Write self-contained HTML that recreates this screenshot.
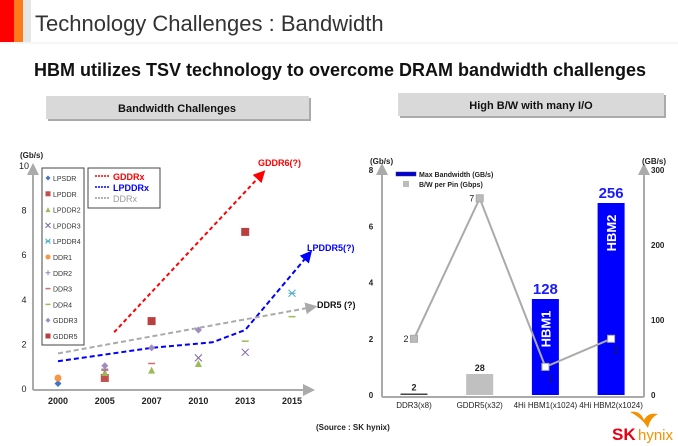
<!DOCTYPE html>
<html><head><meta charset="utf-8"><style>
body{margin:0;background:#fff;font-family:"Liberation Sans",sans-serif}
svg{display:block}
</style></head><body>
<svg width="678" height="446" viewBox="0 0 678 446" xmlns="http://www.w3.org/2000/svg" font-family="Liberation Sans, sans-serif">
<defs>
<marker id="ar" markerWidth="6" markerHeight="6" refX="5" refY="3" orient="auto"><path d="M0,0L6,3L0,6z" fill="#f00"/></marker>
<marker id="ab" markerWidth="6" markerHeight="6" refX="5" refY="3" orient="auto"><path d="M0,0L6,3L0,6z" fill="#00f"/></marker>
<marker id="ag" markerWidth="6" markerHeight="6" refX="5" refY="3" orient="auto"><path d="M0,0L6,3L0,6z" fill="#aaa"/></marker>
<marker id="ax" markerWidth="6" markerHeight="6" refX="5" refY="3" orient="auto"><path d="M0,0L6,3L0,6z" fill="#aaa"/></marker>
</defs>
<rect x="0" y="0" width="14" height="42" fill="#f00"/>
<rect x="14" y="0" width="9" height="42" fill="#ff7a1a"/>
<rect x="23" y="0" width="8" height="42" fill="#e6e6e6"/>
<text x="35" y="31" font-size="22" fill="#333">Technology Challenges : Bandwidth</text>
<line x1="0" y1="43" x2="678" y2="43" stroke="#eee"/>
<text x="34" y="76" font-size="18" font-weight="bold" fill="#111">HBM utilizes TSV technology to overcome DRAM bandwidth challenges</text>
<rect x="48" y="98" width="263" height="23" fill="#aaa"/>
<rect x="46" y="96" width="263" height="23" fill="#d9d9d9"/>
<text x="177" y="112" font-size="11" font-weight="bold" text-anchor="middle" fill="#111">Bandwidth Challenges</text>
<rect x="400" y="95" width="266" height="23" fill="#aaa"/>
<rect x="398" y="93" width="266" height="23" fill="#d9d9d9"/>
<text x="531" y="109" font-size="11" font-weight="bold" text-anchor="middle" fill="#111">High B/W with many I/O</text>
<g id="left"></g>
<g id="right"></g>
<text x="316" y="430" font-size="8" font-weight="bold" fill="#222">(Source : SK hynix)</text>
<g>
<path d="M630,412 q10,-2 14,8 q4,-8 14,-6 q-8,4 -10,14 q-6,-10 -18,-16z" fill="#f39200"/>
<text x="612" y="440" font-size="17" font-weight="bold" fill="#e60012">SK</text>
<text x="638" y="440" font-size="15" fill="#f39200">hynix</text>
</g>
</svg>
<script>
const NS='http://www.w3.org/2000/svg';
function mk(p,t,a){const e=document.createElementNS(NS,t);for(const k in a)e.setAttribute(k,a[k]);p.appendChild(e);return e;}
// ---- left chart data
const yearLabels=['2000','2005','2007','2010','2013','2015'];
const yTicksL=[0,2,4,6,8,10];
const seriesNames=['LPSDR','LPDDR','LPDDR2','LPDDR3','LPDDR4','DDR1','DDR2','DDR3','DDR4','GDDR3','GDDR5'];
const seriesIdx=[[0],[1],[1,2,3],[2,3,4],[1,3,4,10],[4,5]];
const pointsLPSDR=[[0,0.2]];
const pointsLPDDR=[[1,0.45]];
const pointsLPDDR2=[[1,0.7],[2,0.8],[3,1.1]];
const pointsLPDDR3=[[3,1.35],[4,1.6]];
const pointsLPDDR4=[[5,4.25]];
const pointsDDR1=[[0,0.45]];
const pointsDDR2=[[1,0.85]];
const pointsDDR3=[[1,0.8],[2,1.1]];
const pointsDDR4=[[4,2.1],[5,3.2]];
const pointsGDDR3=[[1,1.0],[2,1.8],[3,2.6]];
const pointsGDDR5=[[2,3.0],[4,7.0]];
const trendGDDR=[[1.2,2.5],[4.4,9.7]];
const trendLPDDR=[[0,1.2],[2,1.8],[3.3,2.05],[4,2.6],[5.4,6.1]];
const trendDDR=[[0,1.55],[5.5,3.65]];
const L=document.getElementById('left');
const xL=i=>58+i*46.8, yL=v=>388-v*22.3;
mk(L,'line',{x1:33,y1:390,x2:33,y2:165,stroke:'#aaa','stroke-width':2,'marker-end':'url(#ax)',});
mk(L,'line',{x1:33,y1:390,x2:313,y2:390,stroke:'#aaa','stroke-width':2,'marker-end':'url(#ax)',});
let t=mk(L,'text',{x:20,y:158,'font-size':8,'font-weight':'bold',fill:'#222'});t.textContent='(Gb/s)';


yTicksL.forEach(v=>{const e=mk(L,'text',{x:24,y:yL(v)+4,'font-size':9,'text-anchor':'middle',fill:'#222'});e.textContent=v;

});
yearLabels.forEach((s,i)=>{const e=mk(L,'text',{x:xL(i),y:404,'font-size':9,'font-weight':'bold','text-anchor':'middle',fill:'#222'});e.textContent=s;

});
const sty={LPSDR:['diamond','#4472c4'],LPDDR:['square','#c0504d'],LPDDR2:['tri','#9bbb59'],LPDDR3:['x','#8064a2'],LPDDR4:['star','#4bacc6'],DDR1:['circle','#f79646'],DDR2:['plus','#7f8fb8'],DDR3:['dash','#d46c6c'],DDR4:['dash','#9bbb59'],GDDR3:['diamond','#a38bc2'],GDDR5:['square','#b84040']};
const ptsMap={LPSDR:pointsLPSDR,LPDDR:pointsLPDDR,LPDDR2:pointsLPDDR2,LPDDR3:pointsLPDDR3,LPDDR4:pointsLPDDR4,DDR1:pointsDDR1,DDR2:pointsDDR2,DDR3:pointsDDR3,DDR4:pointsDDR4,GDDR3:pointsGDDR3,GDDR5:pointsGDDR5};
function marker(p,shape,c,x,y,s){let e;
 if(shape==='diamond')e=mk(p,'path',{d:`M${x},${y-s}L${x+s},${y}L${x},${y+s}L${x-s},${y}z`,fill:c});
 else if(shape==='square')e=mk(p,'rect',{x:x-s,y:y-s,width:2*s,height:2*s,fill:c});
 else if(shape==='tri')e=mk(p,'path',{d:`M${x},${y-s}L${x+s},${y+s}L${x-s},${y+s}z`,fill:c});
 else if(shape==='circle')e=mk(p,'circle',{cx:x,cy:y,r:s,fill:c});
 else if(shape==='x')e=mk(p,'path',{d:`M${x-s},${y-s}L${x+s},${y+s}M${x-s},${y+s}L${x+s},${y-s}`,stroke:c,'stroke-width':1});
 else if(shape==='star')e=mk(p,'path',{d:`M${x-s},${y-s}L${x+s},${y+s}M${x-s},${y+s}L${x+s},${y-s}M${x-s},${y}L${x+s},${y}`,stroke:c,'stroke-width':1});
 else if(shape==='plus')e=mk(p,'path',{d:`M${x-s},${y}L${x+s},${y}M${x},${y-s}L${x},${y+s}`,stroke:c,'stroke-width':1});
 else e=mk(p,'line',{x1:x-s,y1:y,x2:x+s,y2:y,stroke:c,'stroke-width':1.5});
 return e;}
function pts(arr){return arr.map(p=>xL(p[0])+','+yL(p[1])).join(' ');}
let tl=mk(L,'polyline',{points:pts(trendGDDR),fill:'none',stroke:'#f00','stroke-width':2,'stroke-dasharray':'4,3','marker-end':'url(#ar)'});


tl=mk(L,'polyline',{points:pts(trendLPDDR),fill:'none',stroke:'#00f','stroke-width':2,'stroke-dasharray':'5,3','marker-end':'url(#ab)'});


tl=mk(L,'polyline',{points:pts(trendDDR),fill:'none',stroke:'#aaa','stroke-width':2,'stroke-dasharray':'5,3','marker-end':'url(#ag)'});


seriesNames.forEach(n=>{ptsMap[n].forEach(p=>{const m=marker(L,sty[n][0],sty[n][1],xL(p[0]),yL(p[1]),sty[n][0]==='square'?4:3.5);

});});
[['GDDR6(?)',258,166,'#f00'],['LPDDR5(?)',307,251,'#00f'],['DDR5 (?)',317,308,'#111']].forEach(a=>{const e=mk(L,'text',{x:a[1],y:a[2],'font-size':9,'font-weight':'bold',fill:a[3]});e.textContent=a[0];

});
// legends
let lb=mk(L,'rect',{x:42,y:168,width:42,height:177,fill:'#fff',stroke:'#444'});


seriesNames.forEach((n,i)=>{const y=178+i*15.8;marker(L,sty[n][0],sty[n][1],48,y,2.5);const e=mk(L,'text',{x:53,y:y+3,'font-size':7,fill:'#333'});e.textContent=n;

});
lb=mk(L,'rect',{x:88,y:168,width:72,height:40,fill:'#fff',stroke:'#444'});


[['GDDRx','#f00'],['LPDDRx','#00f'],['DDRx','#999']].forEach((a,i)=>{const y=179+i*11;mk(L,'line',{x1:95,y1:y-3,x2:110,y2:y-3,stroke:a[1],'stroke-width':1.5,'stroke-dasharray':'2,1'});const e=mk(L,'text',{x:113,y:y+1,'font-size':9,'font-weight':i<2?'bold':'normal',fill:a[1]});e.textContent=a[0];

});
// ---- right chart
const cats=['DDR3(x8)','GDDR5(x32)','4Hi HBM1(x1024)','4Hi HBM2(x1024)'];
const maxBW=[2,28,128,256];
const perPin=[2,7,1,2];
const yTicksLeftR=[0,2,4,6,8];
const yTicksRightR=[0,100,200,300];
const R=document.getElementById('right');
const xc=i=>414+i*65.7, yPin=v=>395-v*28.1, yBW=v=>395-v*0.75;
mk(R,'line',{x1:382,y1:397,x2:382,y2:165,stroke:'#aaa','stroke-width':2,'marker-end':'url(#ax)',});
mk(R,'line',{x1:644,y1:397,x2:644,y2:165,stroke:'#aaa','stroke-width':2,'marker-end':'url(#ax)',});
mk(R,'line',{x1:382,y1:397,x2:644,y2:397,stroke:'#aaa','stroke-width':2,});
t=mk(R,'text',{x:370,y:164,'font-size':8,'font-weight':'bold',fill:'#222'});t.textContent='(Gb/s)';


t=mk(R,'text',{x:642,y:164,'font-size':8,'font-weight':'bold',fill:'#222'});t.textContent='(GB/s)';


yTicksLeftR.forEach(v=>{const e=mk(R,'text',{x:371,y:yPin(v)+3,'font-size':8,'font-weight':'bold','text-anchor':'middle',fill:'#222'});e.textContent=v;

});
yTicksRightR.forEach(v=>{const e=mk(R,'text',{x:651,y:yBW(v)+3,'font-size':8,'font-weight':'bold',fill:'#222'});e.textContent=v;

});
const barCol=['#444','#c0c0c0','#0000ff','#0000ff'];
cats.forEach((c,i)=>{const x=xc(i),top=yBW(maxBW[i]);
 const b=mk(R,'rect',{x:x-13.5,y:top,width:27,height:Math.max(1,395-top),fill:barCol[i]});
 
 
 const big=i>=2;const l=mk(R,'text',{x:x,y:top-(big?5:3),'font-size':big?15:9,'font-weight':'bold','text-anchor':'middle',fill:big?'#1a1aff':'#222'});l.textContent=maxBW[i];
 
 
 if(big){const h=mk(R,'text',{x:0,y:0,'font-size':13,'font-weight':'bold',fill:'#fff','text-anchor':'middle',transform:`translate(${x+5},${top+30}) rotate(-90)`});h.textContent='HBM'+(i-1);
 
 }
 const xl=mk(R,'text',{x:x,y:408,'font-size':8,'text-anchor':'middle',fill:'#222'});xl.textContent=c;
 
 });
const pl=mk(R,'polyline',{points:perPin.map((v,i)=>xc(i)+','+yPin(v)).join(' '),fill:'none',stroke:'#aaa','stroke-width':2});


perPin.forEach((v,i)=>{const x=xc(i),y=yPin(v);const m=mk(R,'rect',{x:x-3.5,y:y-3.5,width:7,height:7,fill:i>=2?'#fff':'#bbb',stroke:'#aaa'});
 
 
 const l=mk(R,'text',{x:i>=2?x+5:x-8,y:i>=2?y+14:y+3,'font-size':9,'text-anchor':'middle',fill:'#222'});l.textContent=v;
 
 });
mk(R,'rect',{x:396,y:172,width:20,height:4,fill:'#0000dd',stroke:'#333','stroke-width':0.5,});
t=mk(R,'text',{x:419,y:177,'font-size':7,'font-weight':'bold',fill:'#222'});t.textContent='Max Bandwidth (GB/s)';


mk(R,'rect',{x:403,y:181,width:6,height:6,fill:'#bbb',});
t=mk(R,'text',{x:419,y:187,'font-size':7,'font-weight':'bold',fill:'#222'});t.textContent='B/W per Pin (Gbps)';


</script>
</body></html>
